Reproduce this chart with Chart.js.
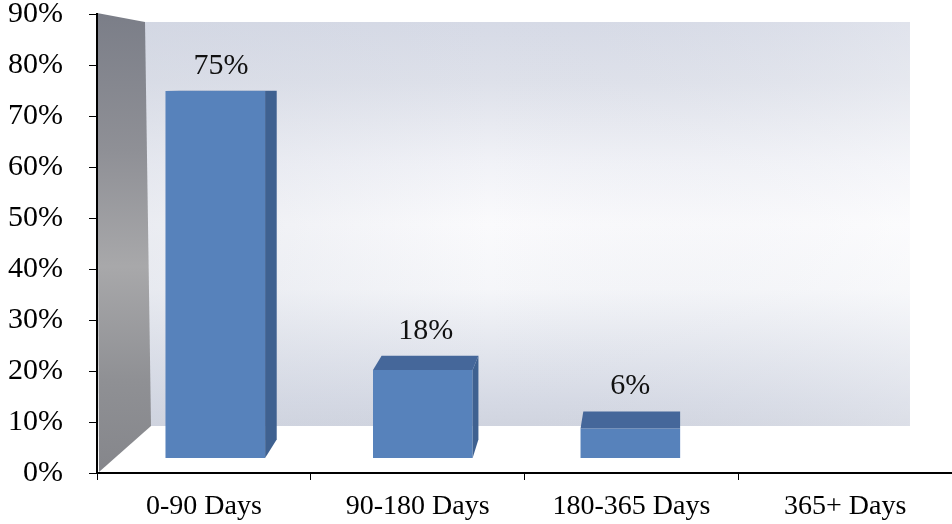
<!DOCTYPE html>
<html>
<head>
<meta charset="utf-8">
<script src="https://cdn.jsdelivr.net/npm/chart.js@4.4.1/dist/chart.umd.min.js"></script>
<style>
  html, body { margin: 0; padding: 0; background: #fff; }
</style>
</head>
<body>
<canvas id="agingChart" width="952" height="524"></canvas>
<script>
// data
const categories = ["0-90 Days", "90-180 Days", "180-365 Days", "365+ Days"];
const sharePct = [75, 18, 6, null];
const yMin = 0;
const yMax = 90;
const yStep = 10;

// fake 3D look (Excel style): vanishing point and depth factors
const VP_X = 680;
const VP_Y = 88;
const K_X = 0.028;
const K_Y = 0.05;

const FONT = "'Liberation Serif', 'Times New Roman', serif";
Chart.defaults.font.family = FONT;
Chart.defaults.color = "#000";

function recede(px, py) {
  return [px + (VP_X - px) * K_X, py - (py - VP_Y) * K_Y];
}

function poly(ctx, pts, fill) {
  ctx.beginPath();
  ctx.moveTo(pts[0][0], pts[0][1]);
  for (let i = 1; i < pts.length; i++) ctx.lineTo(pts[i][0], pts[i][1]);
  ctx.closePath();
  ctx.fillStyle = fill;
  ctx.fill();
}

const wallsPlugin = {
  id: "walls",
  beforeDraw(chart) {
    const { ctx, chartArea: a } = chart;
    const L = a.left, T = a.top, R = a.right, B = a.bottom;
    ctx.save();
    // back wall
    const bx0 = L + 48, by0 = T + 8, bx1 = R - 42, by1 = B - 47;
    const g = ctx.createLinearGradient(0, by0, 0, by1);
    g.addColorStop(0, "#d6dae6");
    g.addColorStop(0.15, "#dee1ea");
    g.addColorStop(0.35, "#f1f2f7");
    g.addColorStop(0.5, "#fafafc");
    g.addColorStop(0.66, "#f5f6f9");
    g.addColorStop(0.82, "#e2e5ed");
    g.addColorStop(0.94, "#d5d9e4");
    g.addColorStop(1, "#d0d4df");
    ctx.fillStyle = g;
    ctx.fillRect(bx0, by0, bx1 - bx0, by1 - by0);
    const h = ctx.createLinearGradient(bx0, 0, bx1, 0);
    h.addColorStop(0, "rgba(205,210,222,0.35)");
    h.addColorStop(0.45, "rgba(205,210,222,0)");
    h.addColorStop(1, "rgba(255,255,255,0.25)");
    ctx.fillStyle = h;
    ctx.fillRect(bx0, by0, bx1 - bx0, by1 - by0);
    // side wall
    const s = ctx.createLinearGradient(0, T, 0, B);
    s.addColorStop(0, "#7b7e88");
    s.addColorStop(0.3, "#8f9096");
    s.addColorStop(0.55, "#a8a8aa");
    s.addColorStop(0.8, "#8f9094");
    s.addColorStop(1, "#85868b");
    poly(ctx, [[L, T - 1], [L + 48, T + 8], [L + 54, B - 47], [L + 2, B - 1]], s);
    ctx.restore();
  },
  afterDatasetsDraw(chart) {
    const { ctx } = chart;
    const meta = chart.getDatasetMeta(0);
    ctx.save();
    meta.data.forEach((bar, i) => {
      const v = sharePct[i];
      if (v === null || v === undefined) return;
      const { x, y, base, width } = bar.getProps(["x", "y", "base", "width"], true);
      const xl = x - width / 2, xr = x + width / 2;
      const tl = recede(xl, y), tr = recede(xr, y), br = recede(xr, base);
      // right side face
      poly(ctx, [[xr, y], tr, br, [xr, base]], "#3f6190");
      // top face
      poly(ctx, [[xl, y], tl, tr, [xr, y]], "#45679a");
      // value label
      ctx.fillStyle = "#111";
      ctx.font = "30px " + FONT;
      ctx.textAlign = "center";
      ctx.textBaseline = "middle";
      ctx.fillText(v + "%", x + (tr[0] - xr) / 2, Math.min(tl[1], y) - 25);
    });
    ctx.restore();
  }
};

new Chart(document.getElementById("agingChart"), {
  type: "bar",
  data: {
    labels: categories,
    datasets: [{
      data: sharePct.map((v, i) => ({ x: i, y: v })),
      xAxisID: "xb",
      yAxisID: "yb",
      backgroundColor: "#5782bb",
      borderWidth: 0,
      categoryPercentage: 1,
      barPercentage: 0.48
    }]
  },
  options: {
    responsive: false,
    animation: false,
    layout: { padding: 0 },
    plugins: { legend: { display: false }, tooltip: { enabled: false } },
    scales: {
      x: {
        type: "category",
        labels: categories,
        offset: true,
        grid: { offset: true, drawOnChartArea: false, tickLength: 7, color: "#000", lineWidth: 1 },
        border: { color: "#000", width: 2 },
        ticks: { font: { size: 28 }, padding: 10, color: "#000", maxRotation: 0 },
        afterFit: s => { s.height = 51; }
      },
      y: {
        type: "linear",
        position: "left",
        min: yMin,
        max: yMax,
        grid: { drawOnChartArea: false, tickLength: 8, color: "#000" },
        border: { color: "#000", width: 2 },
        ticks: { stepSize: yStep, font: { size: 30 }, padding: 26, color: "#000",
                 callback: v => v + "%" },
        afterFit: s => { s.width = 97; s.paddingTop = 14; s.paddingBottom = 0; }
      },
      // hidden scales for the bars, which stand on the receding floor
      xb: { type: "linear", display: false, offset: false, min: -0.57, max: 3.55,
            grid: { offset: false }, ticks: { stepSize: 1, includeBounds: false } },
      yb: { type: "linear", display: false, min: -3.07, max: 90.73 }
    }
  },
  plugins: [wallsPlugin]
});
</script>
</body>
</html>
